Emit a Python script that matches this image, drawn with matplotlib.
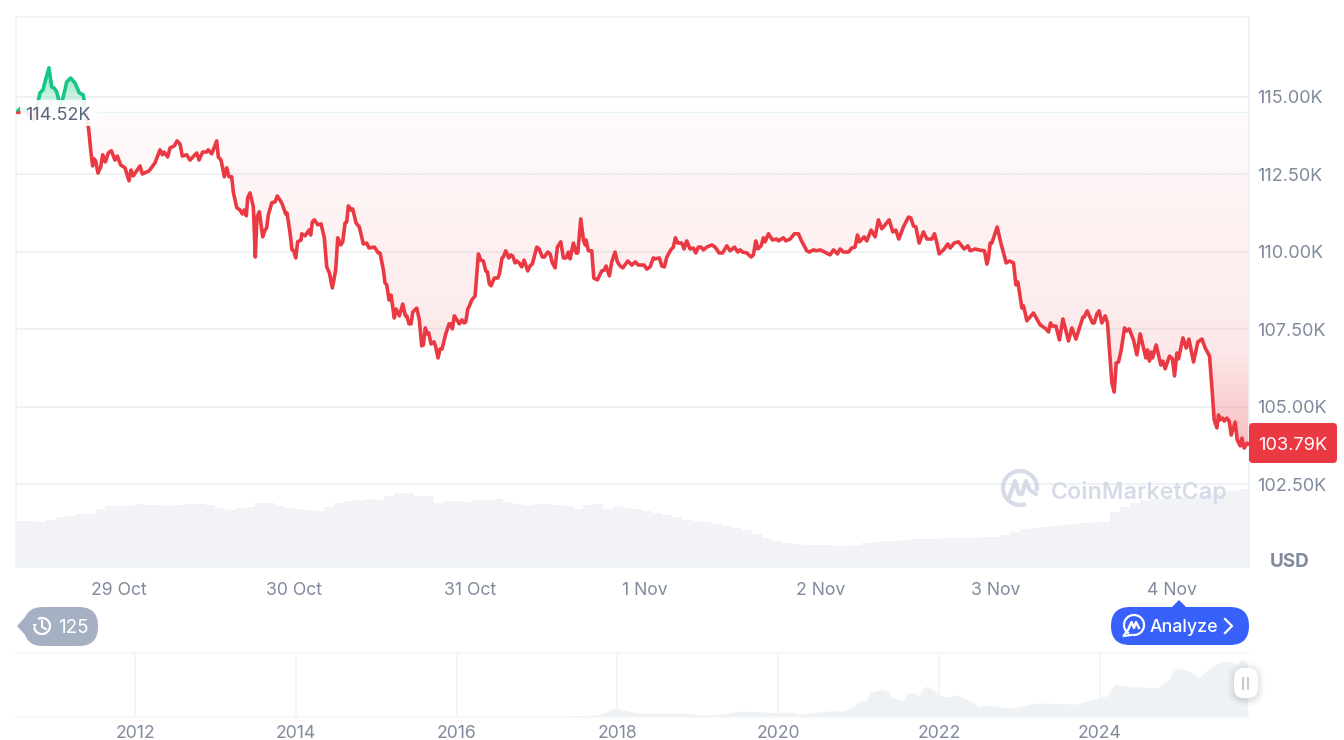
import numpy as np
import matplotlib
matplotlib.use('Agg')
import matplotlib.pyplot as plt
from matplotlib.patches import FancyBboxPatch, Polygon, Rectangle, Arc

plt.rcParams['font.family'] = ['Inter', 'DejaVu Sans']

# ================= data =================
# hours since 29 Oct 00:00, price in thousand USD
hours = [-13.96, -13.41, -12.86, -11.77, -11.36, -10.81, -10.40, -10.13, -9.85, -9.58, -9.21, -8.89,
         -8.52, -8.07, -7.80, -7.39, -7.16, -6.61, -6.02, -5.43, -4.89, -4.52, -4.24, -4.11,
         -3.83, -3.60, -3.42, -3.19, -2.87, -2.50, -2.23, -1.87, -1.46, -1.05, -0.55, -0.23,
         0.23, 0.82, 1.37, 1.64, 1.96, 2.87, 3.19, 4.11, 4.93, 5.61, 5.93, 6.16,
         6.66, 6.98, 7.57, 7.94, 8.35, 8.66, 9.26, 9.72, 10.63, 10.95, 11.45, 12.00,
         12.22, 12.69, 13.37, 13.59, 13.96, 14.41, 14.74, 15.05, 15.42, 15.64, 16.11, 16.56,
         16.87, 17.15, 17.42, 17.61, 17.93, 18.38, 18.65, 18.88, 19.20, 19.66, 19.98, 20.21,
         20.43, 20.90, 21.35, 21.66, 22.26, 22.81, 22.99, 23.40, 23.67, 23.91, 24.18, 24.45,
         24.91, 25.00, 25.45, 26.00, 26.23, 26.45, 26.73, 27.19, 27.64, 28.09, 28.42, 28.78,
         29.19, 29.65, 29.93, 30.34, 30.61, 30.93, 31.16, 31.38, 31.75, 31.98, 32.43, 32.88,
         33.43, 33.90, 34.21, 34.94, 35.48, 35.72, 36.17, 36.40, 36.63, 36.95, 37.22, 37.67,
         37.91, 38.36, 38.82, 39.18, 39.37, 39.68, 39.96, 40.19, 40.74, 41.09, 41.42, 41.64,
         41.91, 42.15, 42.38, 42.69, 43.10, 43.34, 43.65, 43.93, 44.20, 44.71, 45.16, 45.39,
         45.61, 45.88, 46.57, 46.90, 47.21, 47.44, 47.72, 47.89, 48.26, 48.72, 49.17, 49.50,
         49.85, 50.18, 50.40, 50.67, 50.90, 51.36, 51.82, 52.04, 52.41, 52.59, 52.92, 53.33,
         53.60, 53.87, 54.19, 54.42, 54.74, 55.10, 55.42, 55.92, 56.24, 56.56, 57.16, 57.47,
         57.92, 58.20, 58.66, 58.98, 59.29, 59.66, 59.98, 60.44, 60.80, 61.17, 61.48, 61.72,
         62.17, 62.54, 62.77, 63.18, 63.54, 63.77, 63.90, 64.22, 64.68, 64.96, 65.45, 66.05,
         66.41, 66.64, 67.09, 67.42, 67.87, 68.19, 68.56, 68.93, 69.61, 70.16, 70.65, 71.06,
         71.84, 72.21, 72.66, 73.11, 73.35, 73.93, 74.26, 74.62, 74.95, 75.49, 75.85, 76.12,
         76.45, 77.00, 77.31, 77.68, 78.13, 78.58, 78.91, 79.27, 79.64, 79.96, 80.42, 81.11,
         81.56, 82.10, 82.56, 83.16, 83.61, 84.20, 84.66, 84.98, 85.29, 85.89, 86.48, 86.80,
         87.12, 87.40, 87.85, 88.16, 88.40, 88.85, 89.40, 90.00, 90.22, 90.90, 91.23, 91.82,
         92.41, 92.95, 93.32, 94.10, 94.46, 95.01, 95.47, 95.93, 97.29, 97.75, 98.29, 98.66,
         99.11, 99.80, 100.26, 100.71, 101.03, 101.30, 101.95, 102.31, 102.90, 103.45, 103.90, 104.37,
         105.37, 105.87, 106.28, 106.69, 107.32, 108.01, 108.34, 108.69, 109.02, 109.47, 110.06, 110.53,
         111.21, 111.57, 111.90, 112.21, 112.80, 113.40, 113.72, 114.26, 114.85, 115.63, 116.14, 116.45,
         117.14, 117.59, 118.41, 118.74, 118.96, 119.19, 119.42, 120.15, 120.65, 121.38, 121.83, 122.38,
         122.71, 122.98, 123.53, 123.75, 124.21, 125.11, 126.03, 126.81, 127.17, 127.44, 127.71, 128.18,
         128.67, 129.14, 129.90, 130.37, 130.92, 131.37, 131.88, 132.05, 132.46, 133.19, 133.42, 133.79,
         134.10, 134.47, 134.93, 135.24, 135.84, 136.16, 136.43, 136.75, 137.12, 137.57, 137.90, 138.21,
         138.80, 139.26, 139.71, 140.49, 140.71, 140.98, 141.22, 141.40, 141.90, 142.54, 142.82, 143.13,
         143.72, 144.13, 144.41, 144.74, 144.96, 145.56, 146.01, 146.38, 147.01, 147.61, 148.16, 148.61,
         149.20, 149.52, 149.84, 150.21, 150.43, 150.66, 150.98, 151.21, 151.58, 151.89, 152.17, 152.71,
         152.99, 153.40, 153.63, 153.95, 154.32, 154.59]
prices = [114.52, 114.64, 114.58, 114.26, 114.52, 115.13, 115.23, 115.48, 115.71, 115.94, 115.32, 115.29,
          115.16, 114.74, 114.84, 115.23, 115.48, 115.61, 115.45, 115.13, 115.06, 114.52, 114.10, 113.87,
          113.19, 112.77, 113.00, 112.93, 112.54, 112.74, 113.13, 112.90, 113.19, 113.26, 112.96, 113.09,
          112.80, 112.71, 112.29, 112.64, 112.45, 112.77, 112.51, 112.61, 112.87, 113.29, 113.13, 113.22,
          113.06, 113.35, 113.42, 113.58, 113.48, 113.09, 113.13, 112.96, 113.19, 112.96, 113.22, 113.22,
          113.29, 113.16, 113.58, 113.06, 112.96, 112.42, 112.71, 112.42, 112.42, 111.93, 111.42, 111.35,
          111.22, 111.35, 111.16, 111.74, 111.90, 111.45, 109.83, 111.12, 111.29, 110.48, 110.70, 110.77,
          111.19, 111.58, 111.61, 111.80, 111.58, 111.22, 111.25, 110.61, 110.06, 110.03, 109.80, 110.32,
          110.38, 110.58, 110.51, 110.70, 110.54, 110.96, 111.03, 110.87, 110.90, 110.45, 109.51, 109.32,
          108.83, 109.41, 110.45, 110.22, 110.32, 110.93, 110.96, 111.48, 111.35, 111.38, 110.93, 110.80,
          110.25, 110.28, 110.12, 110.15, 109.96, 109.96, 109.41, 108.99, 108.93, 108.44, 108.60, 107.86,
          108.15, 107.93, 108.31, 107.93, 107.93, 107.67, 107.67, 108.05, 108.18, 107.80, 106.96, 106.99,
          107.54, 107.35, 107.38, 107.02, 107.09, 106.92, 106.57, 106.86, 106.86, 107.35, 107.67, 107.67,
          107.51, 107.93, 107.67, 107.80, 107.70, 107.73, 108.15, 108.22, 108.44, 108.57, 109.93, 109.73,
          109.70, 109.38, 109.35, 108.96, 108.90, 109.15, 109.15, 109.28, 109.80, 109.83, 110.03, 109.80,
          109.90, 109.86, 109.64, 109.70, 109.64, 109.51, 109.73, 109.38, 109.54, 109.61, 110.15, 110.09,
          109.83, 109.83, 109.99, 109.93, 109.64, 109.48, 110.15, 110.32, 109.80, 109.80, 109.99, 109.77,
          110.28, 109.96, 109.96, 111.06, 110.38, 110.22, 110.38, 110.03, 110.03, 109.15, 109.09, 109.38,
          109.41, 109.54, 109.22, 109.67, 109.99, 109.67, 109.54, 109.48, 109.70, 109.57, 109.67, 109.57,
          109.57, 109.44, 109.51, 109.80, 109.77, 109.80, 109.54, 109.51, 109.83, 110.06, 110.15, 110.45,
          110.28, 110.28, 110.09, 110.35, 110.09, 110.12, 109.96, 110.15, 110.15, 110.06, 110.15, 110.22,
          110.15, 109.96, 109.96, 110.19, 110.03, 110.15, 109.99, 110.06, 109.99, 109.96, 109.83, 109.90,
          110.35, 110.09, 110.19, 110.45, 110.32, 110.58, 110.38, 110.41, 110.35, 110.45, 110.35, 110.41,
          110.58, 110.58, 110.38, 110.03, 109.99, 110.06, 110.03, 110.06, 109.90, 110.06, 109.93, 110.09,
          109.99, 109.99, 110.12, 110.15, 110.54, 110.32, 110.48, 110.35, 110.70, 110.48, 111.03, 110.74,
          111.03, 110.64, 110.70, 110.41, 110.80, 111.12, 111.09, 110.83, 110.80, 110.28, 110.64, 110.41,
          110.41, 110.58, 110.28, 109.93, 110.06, 110.25, 110.12, 110.28, 110.32, 110.09, 110.19, 110.03,
          110.09, 110.06, 110.03, 109.60, 109.80, 110.28, 110.28, 110.80, 110.28, 109.64, 109.70, 109.64,
          108.93, 109.02, 108.18, 108.25, 107.77, 108.02, 107.64, 107.51, 107.41, 107.70, 107.60, 107.60,
          107.15, 107.83, 107.12, 107.54, 107.18, 107.51, 107.89, 107.89, 108.09, 107.70, 107.70, 107.99,
          108.09, 107.70, 107.93, 107.70, 105.76, 105.47, 106.41, 106.44, 106.83, 107.54, 107.44, 107.51,
          107.15, 106.67, 107.35, 106.57, 106.83, 106.47, 106.76, 106.57, 106.99, 106.34, 106.47, 106.22,
          106.63, 106.54, 105.99, 106.73, 106.54, 107.22, 106.89, 107.18, 106.44, 107.09, 107.18, 106.89,
          106.63, 105.63, 104.57, 104.31, 104.73, 104.57, 104.63, 104.53, 104.63, 104.53, 104.08, 104.50,
          103.92, 103.73, 103.98, 103.66, 103.82, 103.79]
start_price = 114.52
last_price = '103.79K'

# volume bars, evenly spaced in time
volumes = [46, 46, 45, 47, 50, 51, 53, 53, 58, 61, 61, 61, 63, 62, 62, 61, 62, 63, 63, 62, 59, 57, 59, 60,
           64, 64, 61, 59, 58, 57, 56, 60, 64, 66, 67, 68, 67, 71, 74, 74, 71, 71, 64, 66, 66, 65, 67, 67,
           68, 65, 63, 62, 63, 63, 62, 61, 58, 62, 63, 58, 61, 59, 58, 56, 54, 52, 50, 47, 46, 45, 43, 41,
           39, 37, 33, 29, 26, 24, 23, 22, 22, 22, 21, 21, 22, 24, 25, 26, 26, 27, 28, 28, 28, 29, 29, 29,
           29, 30, 30, 32, 35, 38, 39, 40, 41, 42, 43, 44, 45, 45, 55, 60, 64, 67, 68, 68, 69, 70, 70, 72,
           74, 75, 76, 78]

# long range navigator
nav_years = [2010.53, 2016.54, 2017.16, 2017.66, 2017.78, 2017.87, 2017.95, 2018.01, 2018.13, 2018.28, 2018.87,
             2019.03, 2019.31, 2019.53, 2019.86, 2019.99, 2020.15, 2020.27, 2020.61, 2020.81, 2020.93, 2021.04,
             2021.09, 2021.14, 2021.20, 2021.29, 2021.37, 2021.42, 2021.45, 2021.55, 2021.61, 2021.70, 2021.74,
             2021.80, 2021.86, 2021.93, 2022.01, 2022.10, 2022.24, 2022.35, 2022.42, 2022.49, 2022.61, 2022.76,
             2022.90, 2023.22, 2023.72, 2024.01, 2024.09, 2024.18, 2024.39, 2024.55, 2024.71, 2024.86, 2024.89,
             2024.96, 2025.07, 2025.15, 2025.23, 2025.38, 2025.54, 2025.63, 2025.70, 2025.77, 2025.84]
nav_prices = [0, 0.5, 1, 4, 6.6, 11, 19.8, 17.6, 13, 8.8, 8.8, 4.4, 6.6, 13.2, 11, 8.8, 11, 6.6, 13.2, 13.2, 22,
              37.4, 33, 55, 57, 61.6, 57, 41.8, 41.8, 35, 52.8, 52.8, 44, 63.8, 68.2, 59.4, 48.4, 44, 48.4, 37.4,
              33, 22, 26.4, 22, 19.8, 30.8, 28.6, 44, 46.2, 72.6, 66, 66, 63.8, 81.4, 96.8, 107.8, 103.4, 96.8,
              85.8, 110, 123.2, 121, 114.4, 127.6, 118.8]

price_ticks = [102.5, 105, 107.5, 110, 112.5, 115]
price_labels = ['102.50K', '105.00K', '107.50K', '110.00K', '112.50K', '115.00K']
day_ticks = [0, 24, 48, 72, 96, 120, 144]
day_labels = ['29 Oct', '30 Oct', '31 Oct', '1 Nov', '2 Nov', '3 Nov', '4 Nov']
year_ticks = [2012, 2014, 2016, 2018, 2020, 2022, 2024]

RED = '#ea3943'
GREEN = '#16c784'
GRID = '#eff2f5'
GRAY = '#808a9d'
W, H = 1344, 740


def px_axes(left, top, right, bottom):
    return fig.add_axes([left / W, 1 - bottom / H, (right - left) / W, (bottom - top) / H])


fig = plt.figure(figsize=(W / 100, H / 100), dpi=100)

# ================= volume behind the price =================
xlim = (-14.09, 154.6)
ylim = (99.82, 117.58)

ax_vol = px_axes(16, 17, 1249, 567)
ax_vol.set_zorder(1)
bar_w = (xlim[1] - xlim[0]) / len(volumes)
bar_x = xlim[0] + bar_w * (np.arange(len(volumes)) + 0.5)
ax_vol.bar(bar_x, volumes, width=bar_w, color='#f1f3f6', linewidth=0)
ax_vol.set_xlim(xlim)
ax_vol.set_ylim(0, 550)
ax_vol.axis('off')

# ================= price line =================
ax = px_axes(16, 17, 1249, 567)
ax.set_zorder(2)
ax.patch.set_alpha(0)

h = np.array(hours)
p = np.array(prices)


def gradient_fill(values, levels, alphas, color):
    # vertical gradient image clipped to the area between the line and the start price
    verts = np.column_stack([h, values])
    verts = np.vstack([[h[0], start_price], verts, [h[-1], start_price]])
    clip = Polygon(verts, transform=ax.transData, facecolor='none', edgecolor='none')
    ax.add_patch(clip)
    rows = np.linspace(ylim[0], ylim[1], 400)
    img = np.zeros((400, 2, 4))
    img[..., :3] = matplotlib.colors.to_rgb(color)
    img[..., 3] = np.interp(rows, levels, alphas)[:, None]
    im = ax.imshow(img, extent=(xlim[0], xlim[1], ylim[0], ylim[1]), origin='lower',
                   aspect='auto', zorder=1.5, interpolation='bilinear')
    im.set_clip_path(clip)


gradient_fill(np.minimum(p, start_price), [103.5, 105, 107, 110, 114.52], [0.34, 0.24, 0.11, 0.08, 0.02], RED)
gradient_fill(np.maximum(p, start_price), [114.52, 116], [0.08, 0.5], GREEN)

ax.plot([h[22], xlim[1]], [start_price, start_price], color='#e6f5ef', lw=0.9, zorder=1.6)

line_red, = ax.plot(h, p, color=RED, lw=2.6, zorder=3, solid_joinstyle='round')
line_red.set_clip_path(Rectangle((xlim[0], ylim[0]), xlim[1] - xlim[0], start_price - ylim[0], transform=ax.transData))
line_green, = ax.plot(h, p, color=GREEN, lw=2.6, zorder=3, solid_joinstyle='round')
line_green.set_clip_path(Rectangle((xlim[0], start_price), xlim[1] - xlim[0], ylim[1] - start_price, transform=ax.transData))

ax.set_xlim(xlim)
ax.set_ylim(ylim)
ax.set_yticks(price_ticks)
ax.set_yticklabels(price_labels)
ax.set_xticks(day_ticks)
ax.set_xticklabels(day_labels)
ax.yaxis.tick_right()
ax.grid(axis='y', color=GRID, lw=1.4, zorder=1)
ax.set_axisbelow(True)
ax.tick_params(axis='y', length=0, pad=6, labelsize=13, labelcolor=GRAY)
ax.tick_params(axis='x', length=0, pad=11, labelsize=12.7, labelcolor=GRAY)
for s in ax.spines.values():
    s.set_color(GRID)
    s.set_linewidth(1.2)

# ================= navigator =================
nav = px_axes(16, 653, 1249, 717)
nav.fill_between(nav_years, nav_prices, 0, color='#eff2f5', linewidth=0, zorder=2)
nav.set_xlim(2010.52, 2025.856)
nav.set_ylim(0, 140.8)
nav.set_xticks(year_ticks)
nav.set_xticklabels([str(y) for y in year_ticks])
nav.set_yticks([])
nav.grid(axis='x', color='#f3f4f6', lw=1.2, zorder=1)
nav.set_axisbelow(True)
nav.tick_params(axis='x', length=0, pad=6, labelsize=12.7, labelcolor=GRAY)
for name, s in nav.spines.items():
    s.set_color('#f5f6f8')
    s.set_linewidth(1.2)
    s.set_visible(name in ('top', 'bottom'))

# ================= overlays, in screen pixels =================
ui = fig.add_axes([0, 0, 1, 1])
ui.set_xlim(0, W)
ui.set_ylim(H, 0)
ui.axis('off')
ui.set_zorder(5)
ui.patch.set_alpha(0)


def pill(x0, y0, x1, y1, r, **kw):
    ui.add_patch(FancyBboxPatch((x0, y0), x1 - x0, y1 - y0, boxstyle=f'round,pad=0,rounding_size={r}', linewidth=0, **kw))


# start price label
pill(20, 100, 97, 126, 5, facecolor='white', alpha=0.9)
ui.text(25.5, 113, '114.52K', color='#58667e', fontsize=13, va='center_baseline')
ui.plot([17, 20], [112, 112], color=RED, lw=2.4, solid_capstyle='butt')

# last price badge
pill(1249, 423, 1337, 463, 4, facecolor=RED)
ui.text(1258, 443.5, last_price, color='white', fontsize=13.1, va='center_baseline')
ui.text(1270, 560, 'USD', color=GRAY, fontsize=13.6, fontweight='bold', va='center_baseline')

# watermark
wm = '#d5dce8'
ui.add_patch(Arc((1020, 488), 34, 34, theta1=70, theta2=10, color=wm, lw=3))
ui.plot([1009, 1015, 1019, 1022, 1026, 1030, 1036], [498, 481, 494, 494, 481, 490, 494],
        color=wm, lw=3, solid_joinstyle='round', solid_capstyle='round')
ui.text(1051, 490, 'CoinMarketCap', color=wm, fontsize=16.8, fontweight='semibold', va='center_baseline')

# history pill
hist_c = '#a6b0c3'
ui.add_patch(Polygon([[17, 626], [27, 615], [27, 637]], facecolor=hist_c, linewidth=0))
pill(24, 607, 98, 646, 19, facecolor=hist_c)
ui.add_patch(Arc((42, 626), 16, 16, theta1=-120, theta2=170, color='white', lw=1.6))
ui.plot([42, 42, 46], [621, 627, 629], color='white', lw=1.5)
ui.add_patch(Polygon([[32.5, 624], [37, 624], [34.7, 628]], facecolor='white', linewidth=0))
ui.text(58, 626, '125', color='white', fontsize=13.6, va='center_baseline')

# analyze pill
blue = '#3861fb'
ui.add_patch(Polygon([[1172, 607], [1179, 600], [1186, 607]], facecolor=blue, linewidth=0))
pill(1111, 607, 1249, 645, 19, facecolor=blue)
ui.add_patch(Arc((1134, 625), 20, 20, theta1=120, theta2=460, color='white', lw=1.6))
ui.plot([1127, 1123.5, 1124, 1131], [631, 636, 636, 635], color='white', lw=1.5)
ui.plot([1128, 1131.5, 1134, 1136, 1139], [630, 622, 628, 622, 628], color='white', lw=1.7, solid_joinstyle='round')
ui.text(1150, 625.5, 'Analyze', color='white', fontsize=12.8, fontweight='medium', va='center_baseline')
ui.plot([1225, 1232, 1225], [619, 626, 633], color='white', lw=1.6, solid_joinstyle='round')

# navigator handle
for grow, a in ((7, 0.012), (5, 0.02), (3, 0.03), (1, 0.04)):
    pill(1234 - grow, 669 - grow, 1258 + grow, 700 + grow, 10 + grow, facecolor='black', alpha=a)
pill(1234, 668, 1258, 698, 10, facecolor='white')
ui.plot([1243, 1243], [678, 689], color='#c5ccd8', lw=1.5)
ui.plot([1248, 1248], [678, 689], color='#c5ccd8', lw=1.5)

fig.savefig('out.png', dpi=100)
